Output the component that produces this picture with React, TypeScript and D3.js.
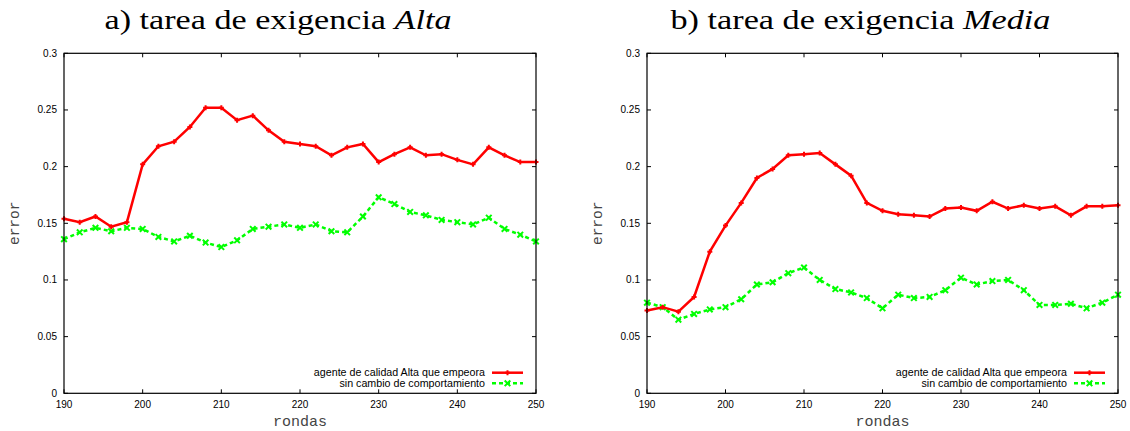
import * as d3 from "d3";

const rounds = [190, 192, 194, 196, 198, 200, 202, 204, 206, 208, 210, 212, 214, 216, 218, 220, 222, 224, 226, 228, 230, 232, 234, 236, 238, 240, 242, 244, 246, 248, 250];

// a) tarea de exigencia Alta
const altaEmpeora = [0.154, 0.151, 0.156, 0.147, 0.151, 0.202, 0.218, 0.222, 0.235, 0.252, 0.252, 0.241, 0.245, 0.232, 0.222, 0.220, 0.218, 0.210, 0.217, 0.220, 0.204, 0.211, 0.217, 0.210, 0.211, 0.206, 0.202, 0.217, 0.210, 0.204, 0.204];
const altaSinCambio = [0.136, 0.142, 0.146, 0.143, 0.146, 0.145, 0.138, 0.134, 0.139, 0.133, 0.129, 0.135, 0.145, 0.147, 0.149, 0.146, 0.149, 0.143, 0.142, 0.156, 0.173, 0.167, 0.160, 0.157, 0.153, 0.151, 0.149, 0.155, 0.145, 0.140, 0.134];

// b) tarea de exigencia Media
const mediaEmpeora = [0.073, 0.076, 0.072, 0.085, 0.125, 0.148, 0.168, 0.190, 0.198, 0.210, 0.211, 0.212, 0.202, 0.192, 0.168, 0.161, 0.158, 0.157, 0.156, 0.163, 0.164, 0.161, 0.169, 0.163, 0.166, 0.163, 0.165, 0.157, 0.165, 0.165, 0.166];
const mediaSinCambio = [0.080, 0.076, 0.065, 0.070, 0.074, 0.076, 0.083, 0.096, 0.098, 0.106, 0.111, 0.100, 0.092, 0.089, 0.084, 0.075, 0.087, 0.084, 0.085, 0.091, 0.102, 0.096, 0.099, 0.100, 0.091, 0.078, 0.078, 0.079, 0.075, 0.080, 0.087];

const xTicks = [190, 200, 210, 220, 230, 240, 250];
const yTicks = [0, 0.05, 0.1, 0.15, 0.2, 0.25, 0.3];
const seriesNames = ["agente de calidad Alta que empeora", "sin cambio de comportamiento"];

const RED = "#ff0000";
const GREEN = "#00ff00";
const sans = "'Liberation Sans', Arial, sans-serif";
const mono = "'Liberation Mono', 'Courier New', monospace";
const serif = "'Liberation Serif', 'Times New Roman', serif";

function Plus({ x, y }) {
  const s = 2.5;
  return (
    <path d={`M${x - s},${y}H${x + s}M${x},${y - s}V${y + s}`} stroke={RED} strokeWidth={2} />
  );
}

function Cross({ x, y }) {
  const s = 2.8;
  return (
    <path d={`M${x - s},${y - s}L${x + s},${y + s}M${x - s},${y + s}L${x + s},${y - s}`} stroke={GREEN} strokeWidth={2} />
  );
}

function Panel({ left, right, top, bottom, title, italic, titleWidth, redVals, greenVals }) {
  const x = d3.scaleLinear().domain([190, 250]).range([left, right]);
  const y = d3.scaleLinear().domain([0, 0.3]).range([bottom, top]);
  const line = d3.line<number>().x((_, i) => x(rounds[i])).y(d => y(d));
  const tick = 4;
  const cx = (left + right) / 2;

  return (
    <g>
      <text x={cx - 22} y={29} textAnchor="middle" fontFamily={serif} fontSize={27}
        textLength={titleWidth} lengthAdjust="spacingAndGlyphs">
        {title}<tspan fontStyle="italic">{italic}</tspan>
      </text>

      {/* ticks */}
      {yTicks.map(t => (
        <g key={"y" + t}>
          <line x1={left} x2={left + tick} y1={y(t)} y2={y(t)} stroke="#000" />
          <line x1={right} x2={right - tick} y1={y(t)} y2={y(t)} stroke="#000" />
          <text x={left - 7} y={y(t) + 3.5} textAnchor="end" fontFamily={sans} fontSize={10}>{t}</text>
        </g>
      ))}
      {xTicks.map(t => (
        <g key={"x" + t}>
          <line x1={x(t)} x2={x(t)} y1={bottom} y2={bottom - tick} stroke="#000" />
          <line x1={x(t)} x2={x(t)} y1={top} y2={top + tick} stroke="#000" />
          <text x={x(t)} y={bottom + 14.5} textAnchor="middle" fontFamily={sans} fontSize={10}>{t}</text>
        </g>
      ))}

      <text x={cx} y={426} textAnchor="middle" fontFamily={mono} fontSize={15} fill="#444">rondas</text>
      <text transform={`translate(${left - 45},${(top + bottom) / 2}) rotate(-90)`} textAnchor="middle"
        fontFamily={mono} fontSize={14.5} fill="#444">error</text>

      {/* series */}
      <path d={line(greenVals) ?? ""} fill="none" stroke={GREEN} strokeWidth={2.5} strokeDasharray="4,3" />
      {greenVals.map((v, i) => <Cross key={"g" + i} x={x(rounds[i])} y={y(v)} />)}
      <path d={line(redVals) ?? ""} fill="none" stroke={RED} strokeWidth={2.5} />
      {redVals.map((v, i) => <Plus key={"r" + i} x={x(rounds[i])} y={y(v)} />)}

      {/* legend */}
      <text x={right - 51} y={376.3} textAnchor="end" fontFamily={sans} fontSize={10.7}>{seriesNames[0]}</text>
      <line x1={right - 44} x2={right - 13} y1={372.7} y2={372.7} stroke={RED} strokeWidth={2.5} />
      <Plus x={right - 28.5} y={372.7} />
      <text x={right - 51} y={386.8} textAnchor="end" fontFamily={sans} fontSize={10.7}>{seriesNames[1]}</text>
      <line x1={right - 44} x2={right - 13} y1={383.3} y2={383.3} stroke={GREEN} strokeWidth={2.5} strokeDasharray="4,3" />
      <Cross x={right - 28.5} y={383.3} />

      <rect x={left} y={top} width={right - left} height={bottom - top} fill="none" stroke="#000" strokeWidth={1.2} />
    </g>
  );
}

export default function App() {
  return (
    <svg width={1130} height={431} style={{ position: "absolute", left: 0, top: 0, background: "#fff" }}>
      <Panel left={64} right={536} top={53.3} bottom={393.3} title="a) tarea de exigencia " italic="Alta"
        titleWidth={347} redVals={altaEmpeora} greenVals={altaSinCambio} />
      <Panel left={647} right={1118} top={53.3} bottom={393.3} title="b) tarea de exigencia " italic="Media"
        titleWidth={380} redVals={mediaEmpeora} greenVals={mediaSinCambio} />
    </svg>
  );
}
